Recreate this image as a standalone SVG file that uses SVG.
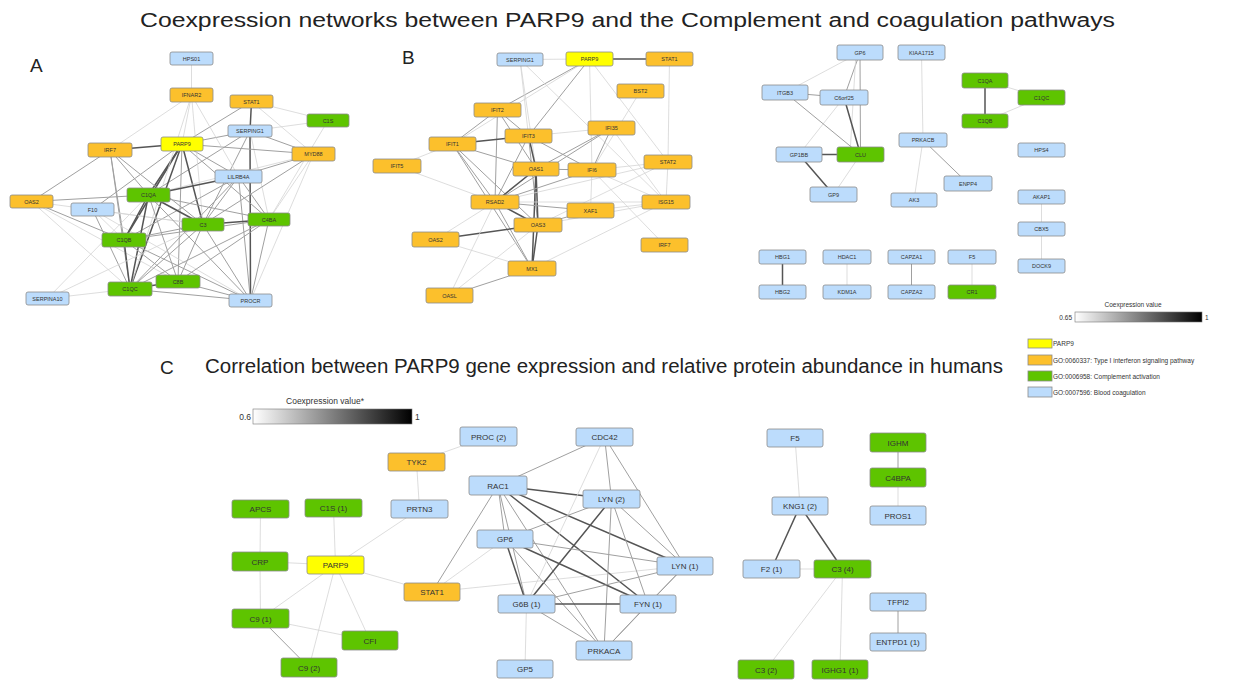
<svg xmlns="http://www.w3.org/2000/svg" width="1252" height="681" viewBox="0 0 1252 681">
<defs>
<linearGradient id="gr" x1="0" y1="0" x2="1" y2="0"><stop offset="0" stop-color="#ffffff"/><stop offset="1" stop-color="#000000"/></linearGradient>
<style>
text{font-family:"Liberation Sans",Arial,sans-serif;fill:#333}
.ttl{font-size:20px;fill:#222}
.let{font-size:19px;fill:#222}
rect.n{stroke:#8a8a8a;stroke-width:0.8}
.y{fill:#ffff00}.o{fill:#fcc02c}.g{fill:#5ec400}.b{fill:#bcdcfc}
.s{font-size:5.5px;text-anchor:middle}
.m{font-size:8px;text-anchor:middle}
.lg{font-size:6.5px}
line{stroke-linecap:round}
.l{stroke:#d4d4d4;stroke-width:0.8}
.md{stroke:#a0a0a0;stroke-width:1}
.d{stroke:#555;stroke-width:1.5}
</style>
</defs>
<rect width="1252" height="681" fill="#fff"/>
<text class="ttl" x="140" y="27" textLength="975" lengthAdjust="spacingAndGlyphs">Coexpression networks between PARP9 and the Complement and coagulation pathways</text>
<text class="let" x="30" y="72">A</text>
<text class="let" x="402" y="64">B</text>
<text class="let" x="160" y="374">C</text>
<text class="ttl" x="205" y="373" textLength="798" lengthAdjust="spacingAndGlyphs">Correlation between PARP9 gene expression and relative protein abundance in humans</text>

<g id="connectors">
<!-- Panel A -->
<line class="l" x1="191.5" y1="58.5" x2="191.5" y2="95"/>
<line class="d" x1="251.5" y1="101.5" x2="250" y2="131"/>
<line class="l" x1="251.5" y1="101.5" x2="328" y2="120.5"/>
<line class="l" x1="251.5" y1="101.5" x2="313.5" y2="154"/>
<line class="md" x1="251.5" y1="101.5" x2="182" y2="144"/>
<line class="l" x1="250" y1="131" x2="328" y2="120.5"/>
<line class="md" x1="250" y1="131" x2="313.5" y2="154"/>
<line class="md" x1="250" y1="131" x2="182" y2="144"/>
<line class="d" x1="250" y1="131" x2="250.5" y2="300.5"/>
<line class="md" x1="250" y1="131" x2="203" y2="224.5"/>
<line class="md" x1="250" y1="131" x2="148.5" y2="195"/>
<line class="l" x1="250" y1="131" x2="269" y2="219.5"/>
<line class="d" x1="182" y1="144" x2="110" y2="150"/>
<line class="l" x1="182" y1="144" x2="191.5" y2="95"/>
<line class="md" x1="182" y1="144" x2="313.5" y2="154"/>
<line class="d" x1="182" y1="144" x2="148.5" y2="195"/>
<line class="d" x1="182" y1="144" x2="124" y2="240"/>
<line class="d" x1="182" y1="144" x2="130" y2="289"/>
<line class="d" x1="182" y1="144" x2="203" y2="224.5"/>
<line class="md" x1="182" y1="144" x2="269" y2="219.5"/>
<line class="md" x1="182" y1="144" x2="178" y2="281.5"/>
<line class="md" x1="182" y1="144" x2="238.5" y2="176.5"/>
<line class="md" x1="182" y1="144" x2="92.5" y2="209.5"/>
<line class="md" x1="110" y1="150" x2="31.5" y2="201.5"/>
<line class="md" x1="110" y1="150" x2="148.5" y2="195"/>
<line class="md" x1="110" y1="150" x2="124" y2="240"/>
<line class="md" x1="110" y1="150" x2="203" y2="224.5"/>
<line class="md" x1="110" y1="150" x2="130" y2="289"/>
<line class="l" x1="191.5" y1="95" x2="110" y2="150"/>
<line class="l" x1="191.5" y1="95" x2="203" y2="224.5"/>
<line class="l" x1="191.5" y1="95" x2="130" y2="289"/>
<line class="l" x1="191.5" y1="95" x2="238.5" y2="176.5"/>
<line class="l" x1="313.5" y1="154" x2="269" y2="219.5"/>
<line class="md" x1="313.5" y1="154" x2="203" y2="224.5"/>
<line class="md" x1="313.5" y1="154" x2="238.5" y2="176.5"/>
<line class="l" x1="313.5" y1="154" x2="250.5" y2="300.5"/>
<line class="l" x1="313.5" y1="154" x2="148.5" y2="195"/>
<line class="l" x1="328" y1="120.5" x2="269" y2="219.5"/>
<line class="d" x1="238.5" y1="176.5" x2="148.5" y2="195"/>
<line class="md" x1="238.5" y1="176.5" x2="269" y2="219.5"/>
<line class="md" x1="238.5" y1="176.5" x2="203" y2="224.5"/>
<line class="md" x1="238.5" y1="176.5" x2="130" y2="289"/>
<line class="md" x1="238.5" y1="176.5" x2="250.5" y2="300.5"/>
<line class="md" x1="238.5" y1="176.5" x2="124" y2="240"/>
<line class="md" x1="31.5" y1="201.5" x2="148.5" y2="195"/>
<line class="md" x1="31.5" y1="201.5" x2="124" y2="240"/>
<line class="l" x1="31.5" y1="201.5" x2="130" y2="289"/>
<line class="l" x1="31.5" y1="201.5" x2="203" y2="224.5"/>
<line class="l" x1="31.5" y1="201.5" x2="178" y2="281.5"/>
<line class="md" x1="92.5" y1="209.5" x2="130" y2="289"/>
<line class="l" x1="92.5" y1="209.5" x2="124" y2="240"/>
<line class="l" x1="92.5" y1="209.5" x2="250.5" y2="300.5"/>
<line class="l" x1="92.5" y1="209.5" x2="203" y2="224.5"/>
<line class="d" x1="148.5" y1="195" x2="124" y2="240"/>
<line class="d" x1="148.5" y1="195" x2="130" y2="289"/>
<line class="d" x1="148.5" y1="195" x2="203" y2="224.5"/>
<line class="md" x1="148.5" y1="195" x2="269" y2="219.5"/>
<line class="md" x1="148.5" y1="195" x2="178" y2="281.5"/>
<line class="md" x1="148.5" y1="195" x2="250.5" y2="300.5"/>
<line class="d" x1="124" y1="240" x2="130" y2="289"/>
<line class="md" x1="124" y1="240" x2="203" y2="224.5"/>
<line class="md" x1="124" y1="240" x2="269" y2="219.5"/>
<line class="md" x1="124" y1="240" x2="178" y2="281.5"/>
<line class="md" x1="124" y1="240" x2="250.5" y2="300.5"/>
<line class="d" x1="203" y1="224.5" x2="269" y2="219.5"/>
<line class="md" x1="203" y1="224.5" x2="130" y2="289"/>
<line class="md" x1="203" y1="224.5" x2="250.5" y2="300.5"/>
<line class="md" x1="203" y1="224.5" x2="178" y2="281.5"/>
<line class="md" x1="269" y1="219.5" x2="130" y2="289"/>
<line class="md" x1="269" y1="219.5" x2="178" y2="281.5"/>
<line class="md" x1="269" y1="219.5" x2="250.5" y2="300.5"/>
<line class="md" x1="178" y1="281.5" x2="250.5" y2="300.5"/>
<line class="md" x1="130" y1="289" x2="250.5" y2="300.5"/>
<line class="l" x1="130" y1="289" x2="47.5" y2="298.5"/>
<line class="l" x1="47.5" y1="298.5" x2="148.5" y2="195"/>
<line class="l" x1="47.5" y1="298.5" x2="203" y2="224.5"/>
<line class="d" x1="130" y1="289" x2="178" y2="281.5"/>
<!-- Panel B -->
<line class="l" x1="520" y1="59.5" x2="589.5" y2="59"/>
<line class="d" x1="589.5" y1="59" x2="669.5" y2="59"/>
<line class="l" x1="669.5" y1="59" x2="668" y2="162"/>
<line class="md" x1="589.5" y1="59" x2="497.5" y2="110"/>
<line class="md" x1="589.5" y1="59" x2="528.5" y2="136"/>
<line class="l" x1="589.5" y1="59" x2="452.5" y2="144"/>
<line class="l" x1="589.5" y1="59" x2="668" y2="162"/>
<line class="l" x1="589.5" y1="59" x2="592" y2="170"/>
<line class="l" x1="520" y1="59.5" x2="528.5" y2="136"/>
<line class="l" x1="520" y1="59.5" x2="536" y2="169"/>
<line class="l" x1="520" y1="59.5" x2="666" y2="202"/>
<line class="l" x1="640.5" y1="91" x2="592" y2="170"/>
<line class="md" x1="497.5" y1="110" x2="528.5" y2="136"/>
<line class="md" x1="497.5" y1="110" x2="452.5" y2="144"/>
<line class="md" x1="497.5" y1="110" x2="495" y2="202"/>
<line class="md" x1="497.5" y1="110" x2="536" y2="169"/>
<line class="d" x1="528.5" y1="136" x2="452.5" y2="144"/>
<line class="l" x1="528.5" y1="136" x2="611.5" y2="128"/>
<line class="d" x1="528.5" y1="136" x2="536" y2="169"/>
<line class="md" x1="528.5" y1="136" x2="495" y2="202"/>
<line class="md" x1="528.5" y1="136" x2="592" y2="170"/>
<line class="md" x1="528.5" y1="136" x2="538" y2="225"/>
<line class="l" x1="452.5" y1="144" x2="397" y2="166"/>
<line class="md" x1="452.5" y1="144" x2="495" y2="202"/>
<line class="md" x1="452.5" y1="144" x2="536" y2="169"/>
<line class="md" x1="452.5" y1="144" x2="538" y2="225"/>
<line class="md" x1="452.5" y1="144" x2="532" y2="268.5"/>
<line class="md" x1="611.5" y1="128" x2="592" y2="170"/>
<line class="md" x1="611.5" y1="128" x2="536" y2="169"/>
<line class="md" x1="611.5" y1="128" x2="495" y2="202"/>
<line class="l" x1="611.5" y1="128" x2="666" y2="202"/>
<line class="md" x1="536" y1="169" x2="592" y2="170"/>
<line class="d" x1="536" y1="169" x2="495" y2="202"/>
<line class="d" x1="536" y1="169" x2="538" y2="225"/>
<line class="d" x1="536" y1="169" x2="532" y2="268.5"/>
<line class="md" x1="592" y1="170" x2="495" y2="202"/>
<line class="l" x1="592" y1="170" x2="666" y2="202"/>
<line class="l" x1="592" y1="170" x2="590.5" y2="210.5"/>
<line class="l" x1="592" y1="170" x2="668" y2="162"/>
<line class="md" x1="495" y1="202" x2="590.5" y2="210.5"/>
<line class="d" x1="495" y1="202" x2="538" y2="225"/>
<line class="l" x1="495" y1="202" x2="435.5" y2="239.5"/>
<line class="md" x1="495" y1="202" x2="532" y2="268.5"/>
<line class="l" x1="495" y1="202" x2="397" y2="166"/>
<line class="l" x1="495" y1="202" x2="666" y2="202"/>
<line class="d" x1="538" y1="225" x2="435.5" y2="239.5"/>
<line class="d" x1="538" y1="225" x2="532" y2="268.5"/>
<line class="md" x1="538" y1="225" x2="590.5" y2="210.5"/>
<line class="l" x1="538" y1="225" x2="666" y2="202"/>
<line class="l" x1="435.5" y1="239.5" x2="532" y2="268.5"/>
<line class="md" x1="449.5" y1="295.5" x2="532" y2="268.5"/>
<line class="l" x1="449.5" y1="295.5" x2="538" y2="225"/>
<line class="l" x1="449.5" y1="295.5" x2="495" y2="202"/>
<line class="l" x1="532" y1="268.5" x2="666" y2="202"/>
<line class="l" x1="590.5" y1="210.5" x2="666" y2="202"/>
<line class="l" x1="666" y1="202" x2="668" y2="162"/>
<line class="l" x1="664.5" y1="245" x2="592" y2="170"/>
<line class="l" x1="668" y1="162" x2="538" y2="225"/>
<line class="l" x1="668" y1="162" x2="495" y2="202"/>
<!-- Top right -->
<line class="l" x1="860" y1="52.5" x2="785" y2="92.5"/>
<line class="md" x1="860" y1="52.5" x2="844" y2="97.5"/>
<line class="md" x1="860" y1="52.5" x2="860.5" y2="154.5"/>
<line class="l" x1="856" y1="52.5" x2="850" y2="154.5"/>
<line class="md" x1="844" y1="97.5" x2="785" y2="92.5"/>
<line class="d" x1="844" y1="97.5" x2="860.5" y2="154.5"/>
<line class="l" x1="844" y1="97.5" x2="799" y2="154.5"/>
<line class="md" x1="785" y1="92.5" x2="860.5" y2="154.5"/>
<line class="d" x1="799" y1="154.5" x2="860.5" y2="154.5"/>
<line class="d" x1="799" y1="154.5" x2="833.5" y2="194.5"/>
<line class="l" x1="860.5" y1="154.5" x2="833.5" y2="194.5"/>
<line class="l" x1="921.5" y1="52.5" x2="923" y2="140"/>
<line class="l" x1="923" y1="140" x2="914" y2="200"/>
<line class="md" x1="923" y1="140" x2="968" y2="183.5"/>
<line class="d" x1="985" y1="80.5" x2="985" y2="121"/>
<line class="l" x1="985" y1="80.5" x2="1041.5" y2="97.5"/>
<line class="l" x1="1041.5" y1="97.5" x2="985" y2="121"/>
<line class="l" x1="1041.5" y1="197" x2="1041.5" y2="229"/>
<line class="l" x1="1041.5" y1="229" x2="1041.5" y2="266"/>
<line class="d" x1="782.5" y1="257" x2="782.5" y2="292"/>
<line class="l" x1="847" y1="257" x2="847" y2="292"/>
<line class="md" x1="911.5" y1="257" x2="911.5" y2="292"/>
<line class="l" x1="972" y1="257" x2="972" y2="292"/>
<!-- Panel C -->
<line class="l" x1="416.5" y1="462" x2="488.5" y2="436.5"/>
<line class="l" x1="416.5" y1="462" x2="419.5" y2="509"/>
<line class="l" x1="419.5" y1="509" x2="335.5" y2="565"/>
<line class="l" x1="260.5" y1="509" x2="260" y2="561.5"/>
<line class="l" x1="260" y1="561.5" x2="260.5" y2="618.5"/>
<line class="l" x1="260" y1="561.5" x2="335.5" y2="565"/>
<line class="l" x1="333.5" y1="508" x2="335.5" y2="565"/>
<line class="l" x1="335.5" y1="565" x2="432" y2="592"/>
<line class="l" x1="335.5" y1="565" x2="260.5" y2="618.5"/>
<line class="l" x1="335.5" y1="565" x2="370" y2="640.5"/>
<line class="l" x1="335.5" y1="565" x2="309" y2="667.5"/>
<line class="l" x1="260.5" y1="618.5" x2="370" y2="640.5"/>
<line class="md" x1="260.5" y1="618.5" x2="309" y2="667.5"/>
<line class="l" x1="432" y1="592" x2="505" y2="539"/>
<line class="md" x1="432" y1="592" x2="498" y2="485.5"/>
<line class="l" x1="432" y1="592" x2="685" y2="566"/>
<line class="md" x1="498" y1="485.5" x2="604.5" y2="437"/>
<line class="d" x1="498" y1="485.5" x2="611.5" y2="499"/>
<line class="md" x1="498" y1="485.5" x2="505" y2="539"/>
<line class="d" x1="498" y1="485.5" x2="685" y2="566"/>
<line class="md" x1="498" y1="485.5" x2="526.5" y2="604"/>
<line class="d" x1="498" y1="485.5" x2="648" y2="604"/>
<line class="md" x1="498" y1="485.5" x2="604" y2="650.5"/>
<line class="md" x1="604.5" y1="437" x2="611.5" y2="499"/>
<line class="md" x1="604.5" y1="437" x2="685" y2="566"/>
<line class="l" x1="604.5" y1="437" x2="526.5" y2="604"/>
<line class="md" x1="611.5" y1="499" x2="505" y2="539"/>
<line class="md" x1="611.5" y1="499" x2="685" y2="566"/>
<line class="d" x1="611.5" y1="499" x2="526.5" y2="604"/>
<line class="md" x1="611.5" y1="499" x2="648" y2="604"/>
<line class="md" x1="611.5" y1="499" x2="604" y2="650.5"/>
<line class="md" x1="505" y1="539" x2="685" y2="566"/>
<line class="d" x1="505" y1="539" x2="526.5" y2="604"/>
<line class="d" x1="505" y1="539" x2="648" y2="604"/>
<line class="md" x1="505" y1="539" x2="604" y2="650.5"/>
<line class="d" x1="526.5" y1="604" x2="648" y2="604"/>
<line class="md" x1="526.5" y1="604" x2="685" y2="566"/>
<line class="md" x1="526.5" y1="604" x2="604" y2="650.5"/>
<line class="l" x1="526.5" y1="604" x2="525" y2="669"/>
<line class="md" x1="648" y1="604" x2="685" y2="566"/>
<line class="md" x1="648" y1="604" x2="604" y2="650.5"/>
<line class="md" x1="685" y1="566" x2="604" y2="650.5"/>
<line class="l" x1="795" y1="438" x2="800" y2="506"/>
<line class="d" x1="800" y1="506" x2="771.5" y2="569"/>
<line class="d" x1="800" y1="506" x2="842.5" y2="569"/>
<line class="l" x1="771.5" y1="569" x2="842.5" y2="569"/>
<line class="l" x1="842.5" y1="569" x2="766" y2="669.5"/>
<line class="l" x1="842.5" y1="569" x2="840" y2="669.5"/>
<line class="md" x1="898" y1="442.5" x2="898" y2="477.5"/>
<line class="l" x1="898" y1="477.5" x2="898" y2="515.5"/>
<line class="md" x1="898" y1="602" x2="898" y2="642"/>
</g>

<!-- Panel A nodes -->
<g id="a-hps01"><rect class="n b" x="170" y="52" width="43" height="13" rx="2"/><text class="s" x="191.5" y="60.5">HPS01</text></g>
<g id="a-ifnar2"><rect class="n o" x="170" y="88" width="43" height="14" rx="2"/><text class="s" x="191.5" y="97">IFNAR2</text></g>
<g id="a-stat1"><rect class="n o" x="230" y="95" width="43" height="13" rx="2"/><text class="s" x="251.5" y="103.5">STAT1</text></g>
<g id="a-c1s"><rect class="n g" x="307" y="114" width="42" height="13" rx="2"/><text class="s" x="328" y="122.5">C1S</text></g>
<g id="a-serping1"><rect class="n b" x="228" y="125" width="44" height="12" rx="2"/><text class="s" x="250" y="133">SERPING1</text></g>
<g id="a-irf7"><rect class="n o" x="88" y="143" width="44" height="14" rx="2"/><text class="s" x="110" y="152">IRF7</text></g>
<g id="a-parp9"><rect class="n y" x="161" y="137" width="42" height="14" rx="2"/><text class="s" x="182" y="146">PARP9</text></g>
<g id="a-myd88"><rect class="n o" x="292" y="147" width="43" height="14" rx="2"/><text class="s" x="313.5" y="156">MYD88</text></g>
<g id="a-lilrb4a"><rect class="n b" x="215" y="170" width="47" height="13" rx="2"/><text class="s" x="238.5" y="178.5">LILRB4A</text></g>
<g id="a-c1qa"><rect class="n g" x="127" y="188" width="43" height="14" rx="2"/><text class="s" x="148.5" y="197">C1QA</text></g>
<g id="a-oas2"><rect class="n o" x="10" y="195" width="43" height="13" rx="2"/><text class="s" x="31.5" y="203.5">OAS2</text></g>
<g id="a-f10"><rect class="n b" x="71" y="203" width="43" height="13" rx="2"/><text class="s" x="92.5" y="211.5">F10</text></g>
<g id="a-c1qb"><rect class="n g" x="102" y="233" width="44" height="14" rx="2"/><text class="s" x="124" y="242">C1QB</text></g>
<g id="a-c3"><rect class="n g" x="182" y="218" width="42" height="13" rx="2"/><text class="s" x="203" y="226.5">C3</text></g>
<g id="a-c4ba"><rect class="n g" x="248" y="213" width="42" height="13" rx="2"/><text class="s" x="269" y="221.5">C4BA</text></g>
<g id="a-c8b"><rect class="n g" x="156" y="275" width="44" height="13" rx="2"/><text class="s" x="178" y="283.5">C8B</text></g>
<g id="a-c1qc"><rect class="n g" x="108" y="282" width="44" height="14" rx="2"/><text class="s" x="130" y="291">C1QC</text></g>
<g id="a-serpina10"><rect class="n b" x="26" y="292" width="43" height="13" rx="2"/><text class="s" x="47.5" y="300.5">SERPINA10</text></g>
<g id="a-procr"><rect class="n b" x="229" y="294" width="43" height="13" rx="2"/><text class="s" x="250.5" y="302.5">PROCR</text></g>

<!-- Panel B nodes -->
<g id="b-serping1"><rect class="n b" x="497" y="53" width="46" height="13" rx="2"/><text class="s" x="520" y="61.5">SERPING1</text></g>
<g id="b-parp9"><rect class="n y" x="566" y="52" width="47" height="14" rx="2"/><text class="s" x="589.5" y="61">PARP9</text></g>
<g id="b-stat1"><rect class="n o" x="646" y="52" width="47" height="14" rx="2"/><text class="s" x="669.5" y="61">STAT1</text></g>
<g id="b-bst2"><rect class="n o" x="617" y="84" width="47" height="14" rx="2"/><text class="s" x="640.5" y="93">BST2</text></g>
<g id="b-ifit2"><rect class="n o" x="474" y="103" width="47" height="14" rx="2"/><text class="s" x="497.5" y="112">IFIT2</text></g>
<g id="b-ifit3"><rect class="n o" x="505" y="129" width="47" height="14" rx="2"/><text class="s" x="528.5" y="138">IFIT3</text></g>
<g id="b-ifit1"><rect class="n o" x="429" y="137" width="47" height="14" rx="2"/><text class="s" x="452.5" y="146">IFIT1</text></g>
<g id="b-ifi35"><rect class="n o" x="588" y="121" width="47" height="14" rx="2"/><text class="s" x="611.5" y="130">IFI35</text></g>
<g id="b-ifit5"><rect class="n o" x="373" y="159" width="48" height="14" rx="2"/><text class="s" x="397" y="168">IFIT5</text></g>
<g id="b-oas1"><rect class="n o" x="513" y="162" width="46" height="14" rx="2"/><text class="s" x="536" y="171">OAS1</text></g>
<g id="b-ifi6"><rect class="n o" x="568" y="163" width="48" height="14" rx="2"/><text class="s" x="592" y="172">IFI6</text></g>
<g id="b-stat2"><rect class="n o" x="644" y="155" width="48" height="14" rx="2"/><text class="s" x="668" y="164">STAT2</text></g>
<g id="b-rsad2"><rect class="n o" x="471" y="195" width="48" height="14" rx="2"/><text class="s" x="495" y="204">RSAD2</text></g>
<g id="b-xaf1"><rect class="n o" x="567" y="203" width="47" height="15" rx="2"/><text class="s" x="590.5" y="212.5">XAF1</text></g>
<g id="b-isg15"><rect class="n o" x="642" y="195" width="48" height="14" rx="2"/><text class="s" x="666" y="204">ISG15</text></g>
<g id="b-oas3"><rect class="n o" x="514" y="218" width="48" height="14" rx="2"/><text class="s" x="538" y="227">OAS3</text></g>
<g id="b-oas2"><rect class="n o" x="412" y="232" width="47" height="15" rx="2"/><text class="s" x="435.5" y="241.5">OAS2</text></g>
<g id="b-irf7"><rect class="n o" x="641" y="238" width="47" height="14" rx="2"/><text class="s" x="664.5" y="247">IRF7</text></g>
<g id="b-mx1"><rect class="n o" x="508" y="261" width="48" height="15" rx="2"/><text class="s" x="532" y="270.5">MX1</text></g>
<g id="b-oasl"><rect class="n o" x="426" y="288" width="47" height="15" rx="2"/><text class="s" x="449.5" y="297.5">OASL</text></g>

<!-- Top right nodes -->
<g id="r-gp6"><rect class="n b" x="837" y="45" width="46" height="15" rx="2"/><text class="s" x="860" y="54.5">GP6</text></g>
<g id="r-kiaa1715"><rect class="n b" x="898" y="45" width="47" height="15" rx="2"/><text class="s" x="921.5" y="54.5">KIAA1715</text></g>
<g id="r-itgb3"><rect class="n b" x="762" y="85" width="46" height="15" rx="2"/><text class="s" x="785" y="94.5">ITGB3</text></g>
<g id="r-c6orf25"><rect class="n b" x="820" y="90" width="48" height="15" rx="2"/><text class="s" x="844" y="99.5">C6orf25</text></g>
<g id="r-c1qa"><rect class="n g" x="962" y="73" width="46" height="15" rx="2"/><text class="s" x="985" y="82.5">C1QA</text></g>
<g id="r-c1qc"><rect class="n g" x="1018" y="90" width="47" height="15" rx="2"/><text class="s" x="1041.5" y="99.5">C1QC</text></g>
<g id="r-c1qb"><rect class="n g" x="962" y="114" width="46" height="14" rx="2"/><text class="s" x="985" y="123">C1QB</text></g>
<g id="r-prkacb"><rect class="n b" x="899" y="133" width="48" height="14" rx="2"/><text class="s" x="923" y="142">PRKACB</text></g>
<g id="r-hps4"><rect class="n b" x="1018" y="143" width="47" height="14" rx="2"/><text class="s" x="1041.5" y="152">HPS4</text></g>
<g id="r-gp1bb"><rect class="n b" x="776" y="147" width="46" height="15" rx="2"/><text class="s" x="799" y="156.5">GP1BB</text></g>
<g id="r-clu"><rect class="n g" x="837" y="147" width="47" height="15" rx="2"/><text class="s" x="860.5" y="156.5">CLU</text></g>
<g id="r-enpp4"><rect class="n b" x="944" y="176" width="48" height="15" rx="2"/><text class="s" x="968" y="185.5">ENPP4</text></g>
<g id="r-gp9"><rect class="n b" x="810" y="187" width="47" height="15" rx="2"/><text class="s" x="833.5" y="196.5">GP9</text></g>
<g id="r-ak3"><rect class="n b" x="891" y="193" width="46" height="14" rx="2"/><text class="s" x="914" y="202">AK3</text></g>
<g id="r-akap1"><rect class="n b" x="1018" y="190" width="47" height="14" rx="2"/><text class="s" x="1041.5" y="199">AKAP1</text></g>
<g id="r-cbx5"><rect class="n b" x="1018" y="222" width="47" height="14" rx="2"/><text class="s" x="1041.5" y="231">CBX5</text></g>
<g id="r-dock9"><rect class="n b" x="1018" y="259" width="47" height="14" rx="2"/><text class="s" x="1041.5" y="268">DOCK9</text></g>
<g id="r-hbg1"><rect class="n b" x="759" y="250" width="47" height="14" rx="2"/><text class="s" x="782.5" y="259">HBG1</text></g>
<g id="r-hbg2"><rect class="n b" x="759" y="285" width="47" height="14" rx="2"/><text class="s" x="782.5" y="294">HBG2</text></g>
<g id="r-hdac1"><rect class="n b" x="823" y="250" width="48" height="14" rx="2"/><text class="s" x="847" y="259">HDAC1</text></g>
<g id="r-kdm1a"><rect class="n b" x="823" y="285" width="48" height="14" rx="2"/><text class="s" x="847" y="294">KDM1A</text></g>
<g id="r-capza1"><rect class="n b" x="888" y="250" width="47" height="14" rx="2"/><text class="s" x="911.5" y="259">CAPZA1</text></g>
<g id="r-capza2"><rect class="n b" x="888" y="285" width="47" height="14" rx="2"/><text class="s" x="911.5" y="294">CAPZA2</text></g>
<g id="r-f5"><rect class="n b" x="948" y="250" width="48" height="14" rx="2"/><text class="s" x="972" y="259">F5</text></g>
<g id="r-cr1"><rect class="n g" x="948" y="285" width="48" height="14" rx="2"/><text class="s" x="972" y="294">CR1</text></g>

<!-- Legend top -->
<g id="legend-top">
<text class="lg" x="1133" y="307" text-anchor="middle">Coexpression value</text>
<rect x="1075" y="312" width="127" height="10" fill="url(#gr)" stroke="#777" stroke-width="0.6"/>
<text class="lg" x="1072" y="320" text-anchor="end">0.65</text>
<text class="lg" x="1205" y="320">1</text>
<rect class="n y" x="1028" y="339" width="24" height="9"/><text class="lg" x="1053" y="346">PARP9</text>
<rect class="n o" x="1028" y="355" width="24" height="10"/><text class="lg" x="1053" y="362.5">GO:0060337: Type I interferon signaling pathway</text>
<rect class="n g" x="1028" y="371" width="24" height="10"/><text class="lg" x="1053" y="378.5">GO:0006958: Complement activation</text>
<rect class="n b" x="1028" y="387" width="24" height="10"/><text class="lg" x="1053" y="394.5">GO:0007596: Blood coagulation</text>
</g>

<!-- Legend C -->
<g id="legend-c">
<text x="325" y="404" text-anchor="middle" style="font-size:8.5px">Coexpression value*</text>
<rect x="253" y="409" width="159" height="15" fill="url(#gr)" stroke="#777" stroke-width="0.6"/>
<text x="251" y="420" text-anchor="end" style="font-size:8.5px">0.6</text>
<text x="415" y="420" style="font-size:8.5px">1</text>
</g>

<!-- Panel C nodes -->
<g id="c-tyk2"><rect class="n o" x="388" y="453" width="57" height="18" rx="2"/><text class="m" x="416.5" y="465">TYK2</text></g>
<g id="c-apcs"><rect class="n g" x="232" y="500" width="57" height="18" rx="2"/><text class="m" x="260.5" y="512">APCS</text></g>
<g id="c-c1s1"><rect class="n g" x="305" y="499" width="57" height="18" rx="2"/><text class="m" x="333.5" y="511">C1S (1)</text></g>
<g id="c-prtn3"><rect class="n b" x="391" y="500" width="57" height="18" rx="2"/><text class="m" x="419.5" y="512">PRTN3</text></g>
<g id="c-crp"><rect class="n g" x="232" y="552" width="56" height="19" rx="2"/><text class="m" x="260" y="564.5">CRP</text></g>
<g id="c-parp9"><rect class="n y" x="307" y="556" width="57" height="18" rx="2"/><text class="m" x="335.5" y="568">PARP9</text></g>
<g id="c-stat1"><rect class="n o" x="404" y="583" width="56" height="18" rx="2"/><text class="m" x="432" y="595">STAT1</text></g>
<g id="c-c9-1"><rect class="n g" x="232" y="609" width="57" height="19" rx="2"/><text class="m" x="260.5" y="621.5">C9 (1)</text></g>
<g id="c-cfi"><rect class="n g" x="342" y="631" width="56" height="19" rx="2"/><text class="m" x="370" y="643.5">CFI</text></g>
<g id="c-c9-2"><rect class="n g" x="281" y="658" width="56" height="19" rx="2"/><text class="m" x="309" y="670.5">C9 (2)</text></g>
<g id="c-proc2"><rect class="n b" x="460" y="427" width="57" height="19" rx="2"/><text class="m" x="488.5" y="439.5">PROC (2)</text></g>
<g id="c-cdc42"><rect class="n b" x="576" y="428" width="57" height="18" rx="2"/><text class="m" x="604.5" y="440">CDC42</text></g>
<g id="c-rac1"><rect class="n b" x="469" y="476" width="58" height="19" rx="2"/><text class="m" x="498" y="488.5">RAC1</text></g>
<g id="c-lyn2"><rect class="n b" x="583" y="490" width="57" height="18" rx="2"/><text class="m" x="611.5" y="502">LYN (2)</text></g>
<g id="c-gp6"><rect class="n b" x="477" y="530" width="56" height="18" rx="2"/><text class="m" x="505" y="542">GP6</text></g>
<g id="c-lyn1"><rect class="n b" x="657" y="557" width="56" height="18" rx="2"/><text class="m" x="685" y="569">LYN (1)</text></g>
<g id="c-g6b1"><rect class="n b" x="498" y="595" width="57" height="18" rx="2"/><text class="m" x="526.5" y="607">G6B (1)</text></g>
<g id="c-fyn1"><rect class="n b" x="620" y="595" width="56" height="18" rx="2"/><text class="m" x="648" y="607">FYN (1)</text></g>
<g id="c-prkaca"><rect class="n b" x="576" y="641" width="56" height="19" rx="2"/><text class="m" x="604" y="653.5">PRKACA</text></g>
<g id="c-gp5"><rect class="n b" x="497" y="660" width="56" height="18" rx="2"/><text class="m" x="525" y="672">GP5</text></g>
<g id="c-f5"><rect class="n b" x="767" y="429" width="56" height="18" rx="2"/><text class="m" x="795" y="441">F5</text></g>
<g id="c-ighm"><rect class="n g" x="870" y="433" width="56" height="19" rx="2"/><text class="m" x="898" y="445.5">IGHM</text></g>
<g id="c-c4bpa"><rect class="n g" x="870" y="468" width="56" height="19" rx="2"/><text class="m" x="898" y="480.5">C4BPA</text></g>
<g id="c-pros1"><rect class="n b" x="870" y="506" width="56" height="19" rx="2"/><text class="m" x="898" y="518.5">PROS1</text></g>
<g id="c-kng1"><rect class="n b" x="772" y="497" width="56" height="18" rx="2"/><text class="m" x="800" y="509">KNG1 (2)</text></g>
<g id="c-f2"><rect class="n b" x="743" y="560" width="57" height="18" rx="2"/><text class="m" x="771.5" y="572">F2 (1)</text></g>
<g id="c-c3-4"><rect class="n g" x="814" y="560" width="57" height="18" rx="2"/><text class="m" x="842.5" y="572">C3 (4)</text></g>
<g id="c-tfpi2"><rect class="n b" x="870" y="593" width="56" height="18" rx="2"/><text class="m" x="898" y="605">TFPI2</text></g>
<g id="c-entpd1"><rect class="n b" x="870" y="633" width="56" height="18" rx="2"/><text class="m" x="898" y="645">ENTPD1 (1)</text></g>
<g id="c-c3-2"><rect class="n g" x="738" y="660" width="56" height="19" rx="2"/><text class="m" x="766" y="672.5">C3 (2)</text></g>
<g id="c-ighg1"><rect class="n g" x="812" y="660" width="56" height="19" rx="2"/><text class="m" x="840" y="672.5">IGHG1 (1)</text></g>
</svg>
